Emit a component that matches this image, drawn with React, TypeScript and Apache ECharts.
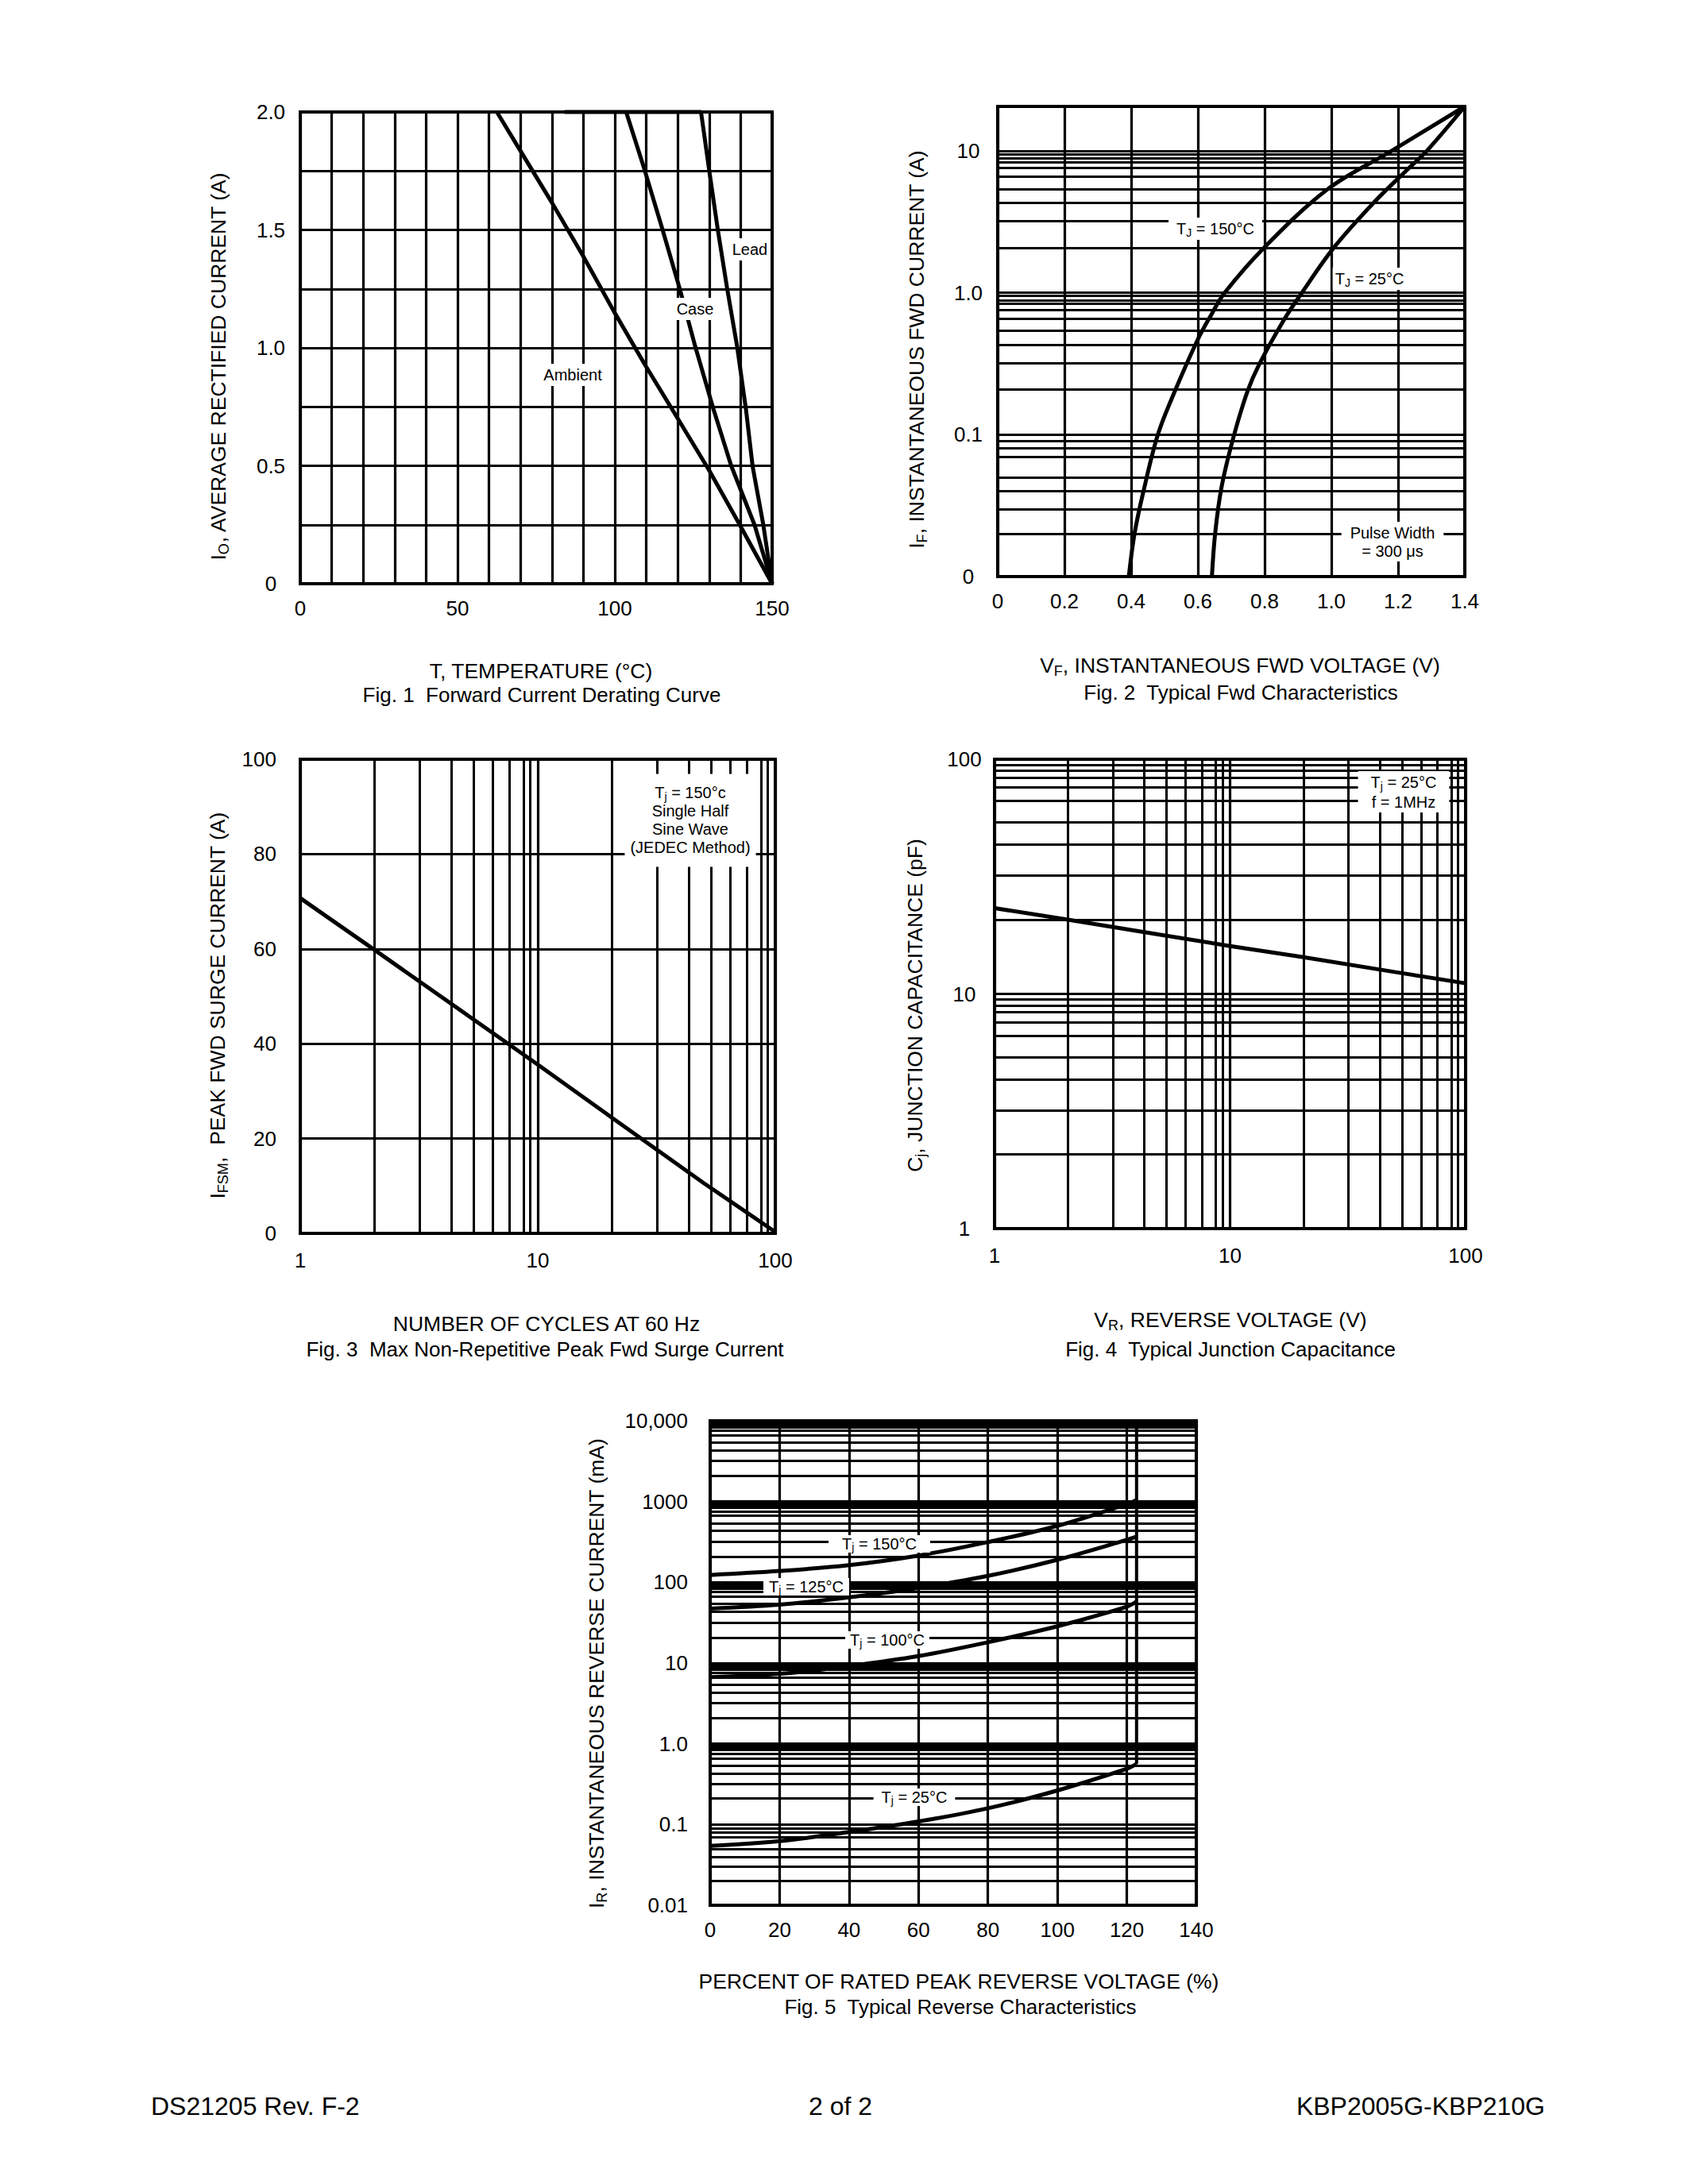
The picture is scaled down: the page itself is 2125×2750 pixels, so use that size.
import React, { useEffect, useRef } from 'react';
import * as echarts from 'echarts';

const FONT = "'Liberation Sans', Arial, Helvetica, sans-serif";

// ---------------- Fig. 1  Forward Current Derating Curve (T °C, Io A)
const fig1Ambient = [[62.5, 2.0], [69.6, 1.844], [79.8, 1.62], [89.9, 1.39], [99.6, 1.157], [109.5, 0.93], [120.2, 0.696], [130.1, 0.478], [139.7, 0.25], [150, 0]];
const fig1Case = [[84, 2.0], [103.6, 2.0], [109.5, 1.753], [115.1, 1.504], [120.6, 1.252], [125.6, 1.004], [131.4, 0.738], [137.0, 0.5], [144.4, 0.25], [150, 0]];
const fig1Lead = [[103.6, 2.0], [127.4, 2.0], [130.0, 1.753], [132.7, 1.504], [135.7, 1.252], [138.9, 1.004], [141.7, 0.738], [143.8, 0.498], [147.2, 0.25], [150, 0]];
const fig1XLabels: [number, string][] = [[0, '0'], [50, '50'], [100, '100'], [150, '150']];
const fig1YLabels: [number, string][] = [[0, '0'], [0.5, '0.5'], [1, '1.0'], [1.5, '1.5'], [2, '2.0']];

// ---------------- Fig. 2  Typical Fwd Characteristics (VF V, IF A)
const fig2T150 = [[0.393, 0.01], [0.41, 0.02], [0.437, 0.04], [0.48, 0.1], [0.53, 0.2], [0.6, 0.47], [0.64, 0.7], [0.68, 1.0], [0.8, 2.1], [0.99, 5.4], [1.18, 10], [1.4, 20.6]];
const fig2T25 = [[0.642, 0.01], [0.652, 0.0204], [0.671, 0.0428], [0.708, 0.0986], [0.749, 0.203], [0.784, 0.314], [0.858, 0.645], [0.91, 0.987], [1.006, 2.06], [1.128, 4.34], [1.233, 7.59], [1.286, 10], [1.4, 20.6]];
const fig2XLabels: [number, string][] = [[0, '0'], [0.2, '0.2'], [0.4, '0.4'], [0.6, '0.6'], [0.8, '0.8'], [1.0, '1.0'], [1.2, '1.2'], [1.4, '1.4']];
const fig2YLabels: [number, string][] = [[0.01, '0'], [0.1, '0.1'], [1, '1.0'], [10, '10']];

// ---------------- Fig. 3  Max Non-Repetitive Peak Fwd Surge Current (cycles, IFSM A)
const fig3Surge = [[1, 70.7], [2, 60.2], [5, 46.2], [10, 35.6], [20, 24.8], [50, 10.6], [100, 0.3]];
const fig3XLabels: [number, string][] = [[1, '1'], [10, '10'], [100, '100']];
const fig3YLabels: [number, string][] = [[0, '0'], [20, '20'], [40, '40'], [60, '60'], [80, '80'], [100, '100']];

// ---------------- Fig. 4  Typical Junction Capacitance (VR V, Cj pF)
const fig4Cj = [[1, 23.2], [2, 20.8], [5, 17.9], [10, 16.0], [20, 14.4], [50, 12.4], [100, 11.1]];
const fig4XLabels: [number, string][] = [[1, '1'], [10, '10'], [100, '100']];
const fig4YLabels: [number, string][] = [[1, '1'], [10, '10'], [100, '100']];

// ---------------- Fig. 5  Typical Reverse Characteristics (% VRRM, IR mA)
const fig5T150 = [[0, 123], [20, 138], [40, 163], [60, 214], [80, 315], [100, 500], [120, 930], [122.8, 1047]];
const fig5T125 = [[0, 47.2], [20, 52.8], [40, 65], [60, 85], [80, 120], [100, 190], [120, 335], [122.8, 367]];
const fig5T100 = [[0, 6.7], [20, 7.35], [40, 9.2], [60, 12.2], [80, 18.1], [100, 28.5], [120, 49.9], [122.8, 57.8]];
const fig5T25 = [[0, 0.0544], [20, 0.0622], [40, 0.0807], [60, 0.109], [80, 0.159], [100, 0.264], [120, 0.49], [122.8, 0.561]];
const fig5Limit = [[122.8, 0.561], [122.8, 10000]];
const fig5XLabels: [number, string][] = [[0, '0'], [20, '20'], [40, '40'], [60, '60'], [80, '80'], [100, '100'], [120, '120'], [140, '140']];
const fig5YLabels: [number, string][] = [[0.01, '0.01'], [0.1, '0.1'], [1, '1.0'], [10, '10'], [100, '100'], [1000, '1000'], [10000, '10,000']];

// minor grid line mantissas of the printed log paper
const logXMinor = [2.05, 3.18, 4.33, 5.38, 6.47, 7.6, 8.7, 9.3];
const logYMinor = [2.07, 3.19, 4.33, 5.38, 6.64, 7.57, 8.36, 8.94, 9.46];

function decadeLines(mantissas: number[], decades: number[]) {
  const out: number[] = [];
  decades.forEach((d) => mantissas.forEach((m) => out.push(+(m * d).toPrecision(5))));
  return out;
}

function fmtFrom(pairs: [number, string][]) {
  return (v: number) => {
    const p = pairs.find(([pv]) => Math.abs(pv - v) <= Math.abs(pv) * 1e-6 + 1e-9);
    return p ? p[1] : '';
  };
}

const GRID_W = 3.2;
const CURVE_W = 5;

function axis(gridIndex: number, type: 'value' | 'log', min: number, max: number, labels: [number, string][], label: any, extra: any = {}) {
  return {
    type,
    gridIndex,
    min,
    max,
    ...(type === 'log' ? { logBase: 10 } : {}),
    axisLine: { show: false },
    axisTick: { show: false },
    splitLine: { show: true, lineStyle: { color: '#000', width: GRID_W } },
    axisLabel: {
      formatter: fmtFrom(labels),
      fontSize: 26,
      fontFamily: FONT,
      color: '#000',
      showMinLabel: true,
      showMaxLabel: true,
      ...label,
    },
    ...extra,
  };
}

function minorLines(xs: number[], ys: number[]) {
  return {
    silent: true,
    symbol: ['none', 'none'],
    label: { show: false },
    animation: false,
    emphasis: { disabled: true },
    lineStyle: { color: '#000', width: 3, type: 'solid' },
    data: [...xs.map((v) => ({ xAxis: v })), ...ys.map((v) => ({ yAxis: v }))],
  };
}

function curve(idx: number, data: number[][], extra: any = {}) {
  return {
    type: 'line',
    xAxisIndex: idx,
    yAxisIndex: idx,
    data,
    symbol: 'none',
    showSymbol: false,
    clip: false,
    silent: true,
    animation: false,
    lineStyle: { color: '#000', width: CURVE_W },
    ...extra,
  };
}

function txt(x: number, y: number, t: string, o: any = {}) {
  const size = o.size ?? 26.5;
  const subSize = o.subSize ?? Math.round(size * 0.68);
  const style: any = {
    text: t,
    fontSize: size,
    fontFamily: FONT,
    fill: '#000',
    align: o.align ?? 'center',
    verticalAlign: 'middle',
    lineHeight: o.lh ?? Math.round(size * 1.18),
    rich: {
      s: { fontSize: subSize, lineHeight: subSize, verticalAlign: 'bottom', fontFamily: FONT, fill: '#000' },
    },
  };
  if (o.bg) {
    style.backgroundColor = '#fff';
    style.padding = o.pad ?? [2, 3];
  }
  return {
    type: 'text',
    x,
    y,
    z: 100,
    silent: true,
    rotation: o.rotate ? Math.PI / 2 : 0,
    style,
  };
}

export default function App() {
  const ref = useRef<HTMLDivElement>(null);

  useEffect(() => {
    if (!ref.current) return;
    const chart = echarts.init(ref.current, null, { renderer: 'svg' });

    const grids = [
      { left: 378, top: 141, width: 594, height: 594 },
      { left: 1256, top: 134, width: 588, height: 592 },
      { left: 378, top: 956, width: 598, height: 597 },
      { left: 1252, top: 956, width: 593, height: 591 },
      { left: 894, top: 1789, width: 612, height: 610 },
    ].map((g) => ({ ...g, show: true, borderColor: '#000', borderWidth: 4, backgroundColor: 'transparent', containLabel: false }));

    const xLab = { margin: 18 };
    const xLab2 = { margin: 21 };
    const yCenter = { align: 'center', margin: 37 };

    const xAxis = [
      axis(0, 'value', 0, 150, fig1XLabels, xLab, { interval: 10 }),
      axis(1, 'value', 0, 1.4, fig2XLabels, xLab, { interval: 0.2 }),
      axis(2, 'log', 1, 100, fig3XLabels, xLab2),
      axis(3, 'log', 1, 100, fig4XLabels, xLab2),
      axis(4, 'value', 0, 140, fig5XLabels, xLab, { interval: 20 }),
    ];
    const yAxis = [
      axis(0, 'value', 0, 2, fig1YLabels, yCenter, { interval: 0.25 }),
      axis(1, 'log', 0.01, 20.6, fig2YLabels, yCenter),
      axis(2, 'value', 0, 100, fig3YLabels, { align: 'right', margin: 30 }, { interval: 20 }),
      axis(3, 'log', 1, 100, fig4YLabels, { align: 'center', margin: 38 }),
      axis(4, 'log', 0.01, 10000, fig5YLabels, { align: 'right', margin: 28 }),
    ];

    const series = [
      curve(0, fig1Ambient),
      curve(0, fig1Case),
      curve(0, fig1Lead),
      curve(1, fig2T150, { smooth: 0.35, markLine: minorLines([], decadeLines(logYMinor, [0.01, 0.1, 1])) }),
      curve(1, fig2T25, { smooth: 0.35 }),
      curve(2, fig3Surge, { markLine: minorLines(decadeLines(logXMinor, [1, 10]), []) }),
      curve(3, fig4Cj, { markLine: minorLines(decadeLines(logXMinor, [1, 10]), decadeLines(logYMinor, [1, 10])) }),
      curve(4, fig5T150, { smooth: 0.35, markLine: minorLines([], decadeLines(logYMinor, [0.01, 0.1, 1, 10, 100, 1000])) }),
      curve(4, fig5T125, { smooth: 0.35 }),
      curve(4, fig5T100, { smooth: 0.35 }),
      curve(4, fig5T25, { smooth: 0.35 }),
      curve(4, fig5Limit, { lineStyle: { color: '#000', width: 4 } }),
    ];

    const ann = { size: 20, subSize: 14, bg: true };
    const elements = [
      // Fig 1
      txt(275, 461, 'I{s|O}, AVERAGE RECTIFIED CURRENT (A)', { rotate: true }),
      txt(681, 845, 'T, TEMPERATURE (°C)'),
      txt(682, 875, 'Fig. 1  Forward Current Derating Curve', { size: 26 }),
      txt(944, 314, 'Lead', { ...ann, pad: [2, 2] }),
      txt(875, 389, 'Case', { ...ann, pad: [2, 2] }),
      txt(721, 472, 'Ambient', { ...ann, pad: [2, 2] }),
      // Fig 2
      txt(1154, 440, 'I{s|F}, INSTANTANEOUS FWD CURRENT (A)', { rotate: true }),
      txt(1561, 838, 'V{s|F}, INSTANTANEOUS FWD VOLTAGE (V)'),
      txt(1562, 872, 'Fig. 2  Typical Fwd Characteristics', { size: 26 }),
      txt(1530, 288, 'T{s|J} = 150°C', { ...ann, pad: [2, 10] }),
      txt(1724, 351, 'T{s|J} = 25°C', { ...ann, pad: [2, 3] }),
      txt(1753, 682, 'Pulse Width\n= 300 μs', { ...ann, lh: 23, pad: [2, 11] }),
      // Fig 3
      txt(274, 1266, 'I{s|FSM},  PEAK FWD SURGE CURRENT (A)', { rotate: true }),
      txt(688, 1667, 'NUMBER OF CYCLES AT 60 Hz'),
      txt(686, 1699, 'Fig. 3  Max Non-Repetitive Peak Fwd Surge Current', { size: 26 }),
      txt(869, 1033, 'T{s|j} = 150°c\nSingle Half\nSine Wave\n(JEDEC Method)', { ...ann, lh: 23, pad: [12, 7, 13, 7] }),
      // Fig 4
      txt(1152, 1266, 'C{s|j}, JUNCTION CAPACITANCE (pF)', { rotate: true }),
      txt(1549, 1662, 'V{s|R}, REVERSE VOLTAGE (V)'),
      txt(1549, 1699, 'Fig. 4  Typical Junction Capacitance', { size: 26 }),
      txt(1767, 997, 'T{s|j} = 25°C\nf = 1MHz', { ...ann, lh: 25, pad: [1, 16] }),
      // Fig 5
      txt(751, 2107, 'I{s|R}, INSTANTANEOUS REVERSE CURRENT (mA)', { rotate: true }),
      txt(1207, 2495, 'PERCENT OF RATED PEAK REVERSE VOLTAGE (%)'),
      txt(1209, 2527, 'Fig. 5  Typical Reverse Characteristics', { size: 26 }),
      txt(1107, 1944, 'T{s|j} = 150°C', { ...ann, lh: 22, pad: [0, 17] }),
      txt(1015, 1998, 'T{s|j} = 125°C', { ...ann, lh: 22, pad: [0, 7] }),
      txt(1117, 2065, 'T{s|j} = 100°C', { ...ann, lh: 22, pad: [0, 6] }),
      txt(1151, 2263, 'T{s|j} = 25°C', { ...ann, lh: 22, pad: [0, 10] }),
      // Footer
      txt(190, 2652, 'DS21205 Rev. F-2', { size: 32, align: 'left' }),
      txt(1058, 2652, '2 of 2', { size: 32 }),
      txt(1945, 2652, 'KBP2005G-KBP210G', { size: 32, align: 'right' }),
    ];

    chart.setOption({
      animation: false,
      backgroundColor: '#fff',
      grid: grids,
      xAxis,
      yAxis,
      series,
      graphic: { elements },
    });

    return () => chart.dispose();
  }, []);

  return (
    <div
      ref={ref}
      style={{ position: 'absolute', left: 0, top: 0, width: 2125, height: 2750 }}
    />
  );
}
